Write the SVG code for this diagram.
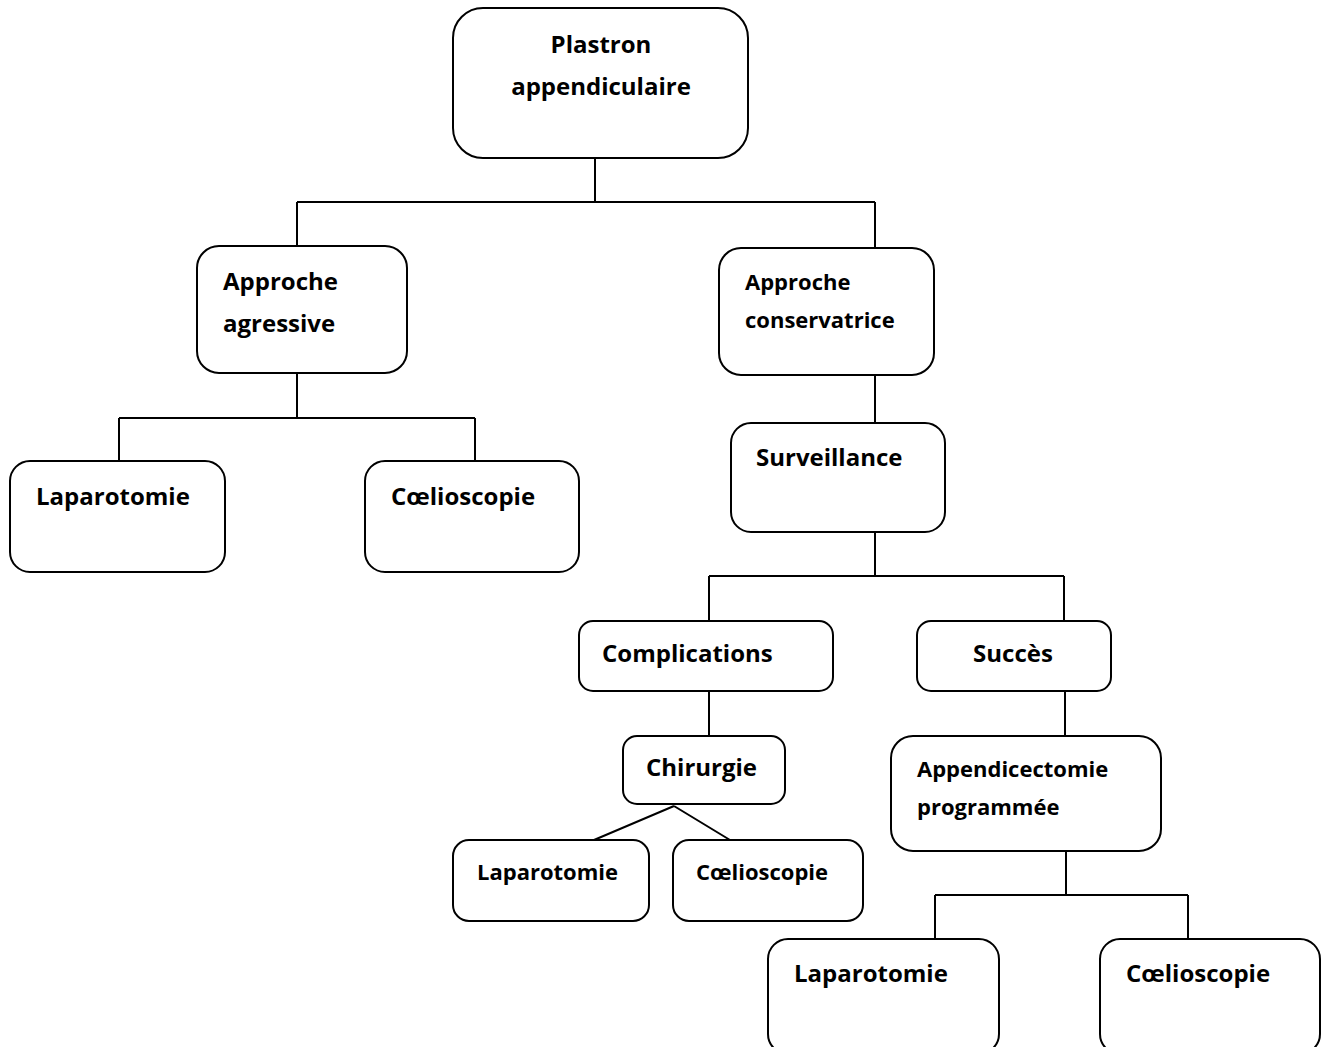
<svg xmlns="http://www.w3.org/2000/svg" width="1325" height="1047" viewBox="0 0 1325 1047">
<style>
.b{fill:#fff;stroke:#000;stroke-width:2}
.t{font-family:"Open Sans","Liberation Sans",sans-serif;font-weight:700;font-size:24px;fill:#000}
.s{font-size:22px}
.c{fill:none;stroke:#000;stroke-width:2}
</style>
<rect width="1325" height="1047" fill="#fff"/>
<g id="connectors">
<path class="c" d="M595 158V202M297 202H875M297 202V248M875 202V248"/>
<path class="c" d="M297 373V418M119 418H475M119 418V462M475 418V462"/>
<path class="c" d="M875 375V423"/>
<path class="c" d="M875 532V576M709 576H1064M709 576V621M1064 576V621"/>
<path class="c" d="M709 691V736"/>
<path class="c" d="M674 806L594 840M674 806L730 840"/>
<path class="c" d="M1065 691V736"/>
<path class="c" d="M1066 851V895M935 895H1188M935 895V939M1188 895V939"/>
</g>
<g id="plastron"><rect class="b" x="453" y="8" width="295" height="150" rx="30"/>
<text class="t" x="601" y="53" text-anchor="middle">Plastron</text>
<text class="t" x="601" y="95" text-anchor="middle">appendiculaire</text></g>
<g id="agressive"><rect class="b" x="197" y="246" width="210" height="127" rx="22"/>
<text class="t" x="223" y="290">Approche</text>
<text class="t" x="223" y="332">agressive</text></g>
<g id="lap1"><rect class="b" x="10" y="461" width="215" height="111" rx="20"/>
<text class="t" x="36" y="505">Laparotomie</text></g>
<g id="coe1"><rect class="b" x="365" y="461" width="214" height="111" rx="20"/>
<text class="t" x="391" y="505">Cœlioscopie</text></g>
<g id="conservatrice"><rect class="b" x="719" y="248" width="215" height="127" rx="22"/>
<text class="t s" x="745" y="290">Approche</text>
<text class="t s" x="745" y="328">conservatrice</text></g>
<g id="surveillance"><rect class="b" x="731" y="423" width="214" height="109" rx="20"/>
<text class="t" x="756" y="466">Surveillance</text></g>
<g id="complications"><rect class="b" x="579" y="621" width="254" height="70" rx="14"/>
<text class="t" x="602" y="662">Complications</text></g>
<g id="succes"><rect class="b" x="917" y="621" width="194" height="70" rx="14"/>
<text class="t" x="1013" y="662" text-anchor="middle">Succès</text></g>
<g id="chirurgie"><rect class="b" x="623" y="736" width="162" height="68" rx="14"/>
<text class="t" x="646" y="776">Chirurgie</text></g>
<g id="lap2"><rect class="b" x="453" y="840" width="196" height="81" rx="16"/>
<text class="t s" x="477" y="880">Laparotomie</text></g>
<g id="coe2"><rect class="b" x="673" y="840" width="190" height="81" rx="16"/>
<text class="t s" x="696" y="880">Cœlioscopie</text></g>
<g id="appendicectomie"><rect class="b" x="891" y="736" width="270" height="115" rx="22"/>
<text class="t s" x="917" y="777">Appendicectomie</text>
<text class="t s" x="917" y="815">programmée</text></g>
<g id="lap3"><rect class="b" x="768" y="939" width="231" height="115" rx="20"/>
<text class="t" x="794" y="982">Laparotomie</text></g>
<g id="coe3"><rect class="b" x="1100" y="939" width="220" height="115" rx="20"/>
<text class="t" x="1126" y="982">Cœlioscopie</text></g>
</svg>
